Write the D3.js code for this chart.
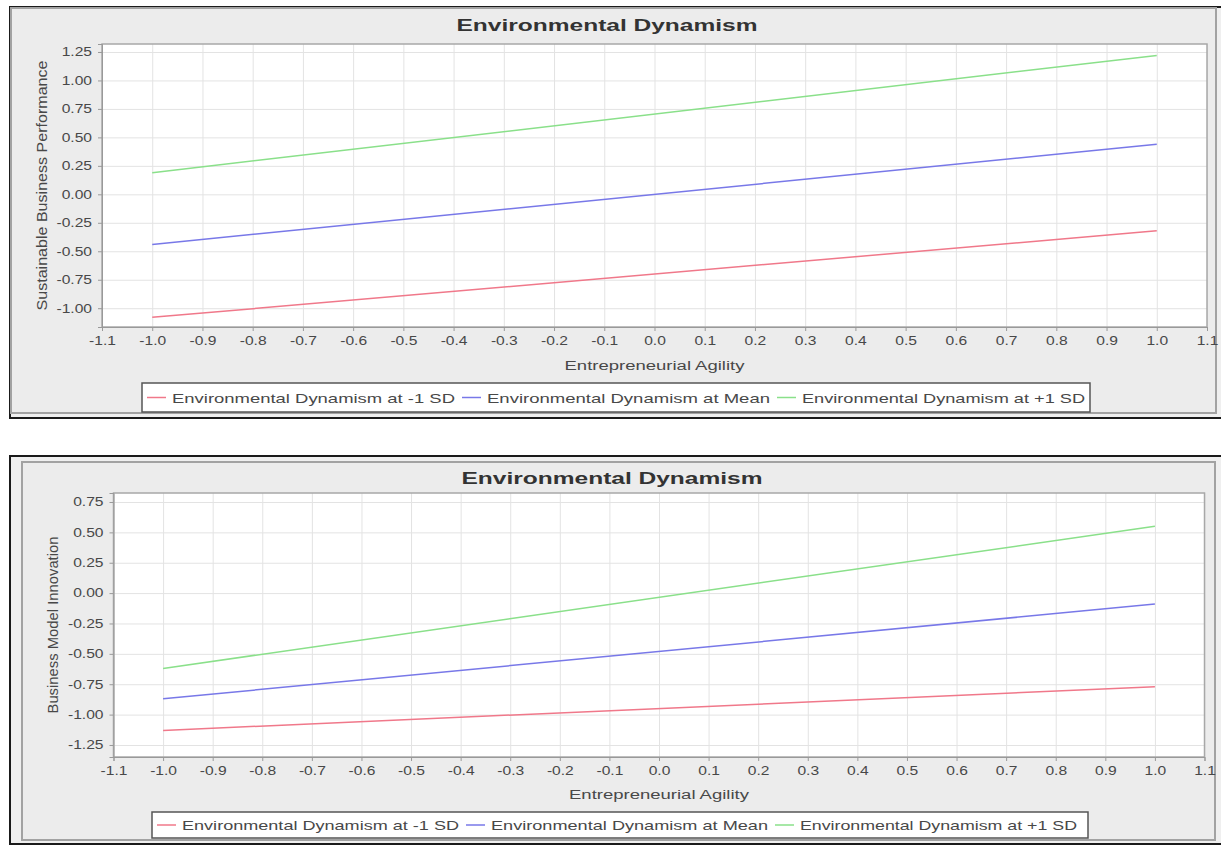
<!DOCTYPE html>
<html>
<head>
<meta charset="utf-8">
<script src="https://cdn.jsdelivr.net/npm/d3@7"></script>
<style>
  body { margin: 0; background: #fff; }
  svg { display: block; font-family: "Liberation Sans", Arial, sans-serif; }
</style>
</head>
<body>
<script>
const width = 1221;
const height = 845;

// data
const xPoints = [-1.0, 1.0];
const seriesNames = ["Environmental Dynamism at -1 SD", "Environmental Dynamism at Mean", "Environmental Dynamism at +1 SD"];

const sbpLow = [-1.08, -0.32];
const sbpMean = [-0.44, 0.44];
const sbpHigh = [0.19, 1.22];

const bmiLow = [-1.13, -0.77];
const bmiMean = [-0.87, -0.09];
const bmiHigh = [-0.62, 0.55];

const xTickValues = [-1.1, -1.0, -0.9, -0.8, -0.7, -0.6, -0.5, -0.4, -0.3, -0.2, -0.1, 0.0, 0.1, 0.2, 0.3, 0.4, 0.5, 0.6, 0.7, 0.8, 0.9, 1.0, 1.1];
const xTickLabels = ["-1.1", "-1.0", "-0.9", "-0.8", "-0.7", "-0.6", "-0.5", "-0.4", "-0.3", "-0.2", "-0.1", "0.0", "0.1", "0.2", "0.3", "0.4", "0.5", "0.6", "0.7", "0.8", "0.9", "1.0", "1.1"];

const sbpTickValues = [1.25, 1.0, 0.75, 0.5, 0.25, 0.0, -0.25, -0.5, -0.75, -1.0];
const sbpTickLabels = ["1.25", "1.00", "0.75", "0.50", "0.25", "0.00", "-0.25", "-0.50", "-0.75", "-1.00"];

const bmiTickValues = [0.75, 0.5, 0.25, 0.0, -0.25, -0.5, -0.75, -1.0, -1.25];
const bmiTickLabels = ["0.75", "0.50", "0.25", "0.00", "-0.25", "-0.50", "-0.75", "-1.00", "-1.25"];

const colors = ["#f0788a", "#7878e8", "#8ae08a"];

const svg = d3.select("body").append("svg")
  .attr("width", width)
  .attr("height", height);

// stretch text horizontally (the source picture is widened)
function stretch(sel, k) {
  sel.each(function () {
    const w = this.getComputedTextLength();
    d3.select(this).attr("textLength", w * k).attr("lengthAdjust", "spacingAndGlyphs");
  });
}

function drawChart(cfg) {
  const g = svg.append("g");

  // outer frame + panel
  g.append("rect")
    .attr("x", cfg.frame[0]).attr("y", cfg.frame[1])
    .attr("width", cfg.frame[2]).attr("height", cfg.frame[3])
    .attr("fill", "#efefef").attr("stroke", "#1a1a1a").attr("stroke-width", 2);
  g.append("rect")
    .attr("x", cfg.panel[0]).attr("y", cfg.panel[1])
    .attr("width", cfg.panel[2]).attr("height", cfg.panel[3])
    .attr("fill", "#ececec").attr("stroke", "#a2a2a2").attr("stroke-width", 2);

  const x = d3.scaleLinear().domain([-1.1, 1.1]).range([cfg.plot.x0, cfg.plot.x1]);
  const y = d3.scaleLinear().domain(cfg.yDomain).range([cfg.plot.y1, cfg.plot.y0]);
  const pw = cfg.plot.x1 - cfg.plot.x0;
  const ph = cfg.plot.y1 - cfg.plot.y0;

  g.append("rect")
    .attr("x", cfg.plot.x0).attr("y", cfg.plot.y0)
    .attr("width", pw).attr("height", ph)
    .attr("fill", "#fff");

  // grid
  g.append("g")
    .attr("transform", `translate(0,${cfg.plot.y1})`)
    .call(d3.axisBottom(x).tickValues(xTickValues).tickSize(-ph).tickFormat(""))
    .call(s => s.select(".domain").remove())
    .call(s => s.selectAll("line").attr("stroke", "#e3e3e3"));
  g.append("g")
    .attr("transform", `translate(${cfg.plot.x0},0)`)
    .call(d3.axisLeft(y).tickValues(cfg.yTicks).tickSize(-pw).tickFormat(""))
    .call(s => s.select(".domain").remove())
    .call(s => s.selectAll("line").attr("stroke", "#e3e3e3"));

  g.append("rect")
    .attr("x", cfg.plot.x0).attr("y", cfg.plot.y0)
    .attr("width", pw).attr("height", ph)
    .attr("fill", "none").attr("stroke", "#a8a8a8").attr("stroke-width", 1.5);

  // axes
  const xAxis = g.append("g")
    .attr("transform", `translate(0,${cfg.plot.y1})`)
    .call(d3.axisBottom(x).tickValues(xTickValues).tickSize(4).tickPadding(5)
      .tickFormat((d, i) => xTickLabels[i]));
  xAxis.select(".domain").attr("stroke", "#999");
  xAxis.selectAll("line").attr("stroke", "#999");
  xAxis.selectAll("text").attr("font-size", 12).attr("fill", "#484848").call(stretch, 1.3);

  const yAxis = g.append("g")
    .attr("transform", `translate(${cfg.plot.x0},0)`)
    .call(d3.axisLeft(y).tickValues(cfg.yTicks).tickSize(4).tickPadding(6)
      .tickFormat((d, i) => cfg.yLabels[i]));
  yAxis.select(".domain").attr("stroke", "#999");
  yAxis.selectAll("line").attr("stroke", "#999");
  yAxis.selectAll("text").attr("font-size", 12).attr("fill", "#484848").call(stretch, 1.3);

  // series lines
  const line = d3.line().x((d, i) => x(xPoints[i])).y(d => y(d));
  cfg.series.forEach((s, i) => {
    g.append("path")
      .datum(s)
      .attr("d", line)
      .attr("fill", "none")
      .attr("stroke", colors[i])
      .attr("stroke-width", 1.5);
  });

  // title and axis labels
  g.append("text")
    .attr("x", cfg.titleX).attr("y", cfg.titleY)
    .attr("text-anchor", "middle")
    .attr("font-size", 16).attr("font-weight", "bold").attr("fill", "#333")
    .attr("textLength", 301).attr("lengthAdjust", "spacingAndGlyphs")
    .text("Environmental Dynamism");

  g.append("text")
    .attr("x", (cfg.plot.x0 + cfg.plot.x1) / 2).attr("y", cfg.xLabelY)
    .attr("text-anchor", "middle")
    .attr("font-size", 12.5).attr("fill", "#484848")
    .attr("textLength", 180).attr("lengthAdjust", "spacingAndGlyphs")
    .text("Entrepreneurial Agility");

  g.append("text")
    .attr("transform", `translate(${cfg.yLabelX},${(cfg.plot.y0 + cfg.plot.y1) / 2}) rotate(-90)`)
    .attr("text-anchor", "middle")
    .attr("font-size", 14).attr("fill", "#484848")
    .attr("textLength", cfg.yLabelLen).attr("lengthAdjust", "spacingAndGlyphs")
    .text(cfg.yLabel);

  // legend
  const lg = cfg.legend;
  g.append("rect")
    .attr("x", lg.x).attr("y", lg.y).attr("width", lg.w).attr("height", lg.h)
    .attr("fill", "#fff").attr("stroke", "#555").attr("stroke-width", 1.5);
  let cx = lg.x + 5;
  seriesNames.forEach((name, i) => {
    g.append("line")
      .attr("x1", cx).attr("x2", cx + 19)
      .attr("y1", lg.y + lg.h / 2).attr("y2", lg.y + lg.h / 2)
      .attr("stroke", colors[i]).attr("stroke-width", 1.5);
    g.append("text")
      .attr("x", cx + 25).attr("y", lg.y + lg.h / 2 + 5)
      .attr("font-size", 13).attr("fill", "#484848")
      .attr("textLength", lg.textW).attr("lengthAdjust", "spacingAndGlyphs")
      .text(name);
    cx += 25 + lg.textW + 7;
  });
}

drawChart({
  frame: [10, 7, 1220, 411],
  panel: [11, 8, 1205, 405],
  plot: { x0: 102, x1: 1207, y0: 44, y1: 327 },
  yDomain: [-1.165, 1.32],
  yTicks: sbpTickValues,
  yLabels: sbpTickLabels,
  yLabel: "Sustainable Business Performance",
  yLabelX: 47,
  yLabelLen: 250,
  series: [sbpLow, sbpMean, sbpHigh],
  titleX: 607,
  titleY: 31,
  xLabelY: 370,
  legend: { x: 142, y: 383, w: 948, h: 29, textW: 283 }
});

drawChart({
  frame: [10, 456, 1220, 388],
  panel: [22, 462, 1193, 378],
  plot: { x0: 113.5, x1: 1204.5, y0: 493, y1: 757 },
  yDomain: [-1.349, 0.824],
  yTicks: bmiTickValues,
  yLabels: bmiTickLabels,
  yLabel: "Business Model Innovation",
  yLabelX: 58,
  yLabelLen: 177,
  series: [bmiLow, bmiMean, bmiHigh],
  titleX: 612,
  titleY: 484,
  xLabelY: 799,
  legend: { x: 152, y: 812, w: 936, h: 26, textW: 277 }
});
</script>
</body>
</html>
